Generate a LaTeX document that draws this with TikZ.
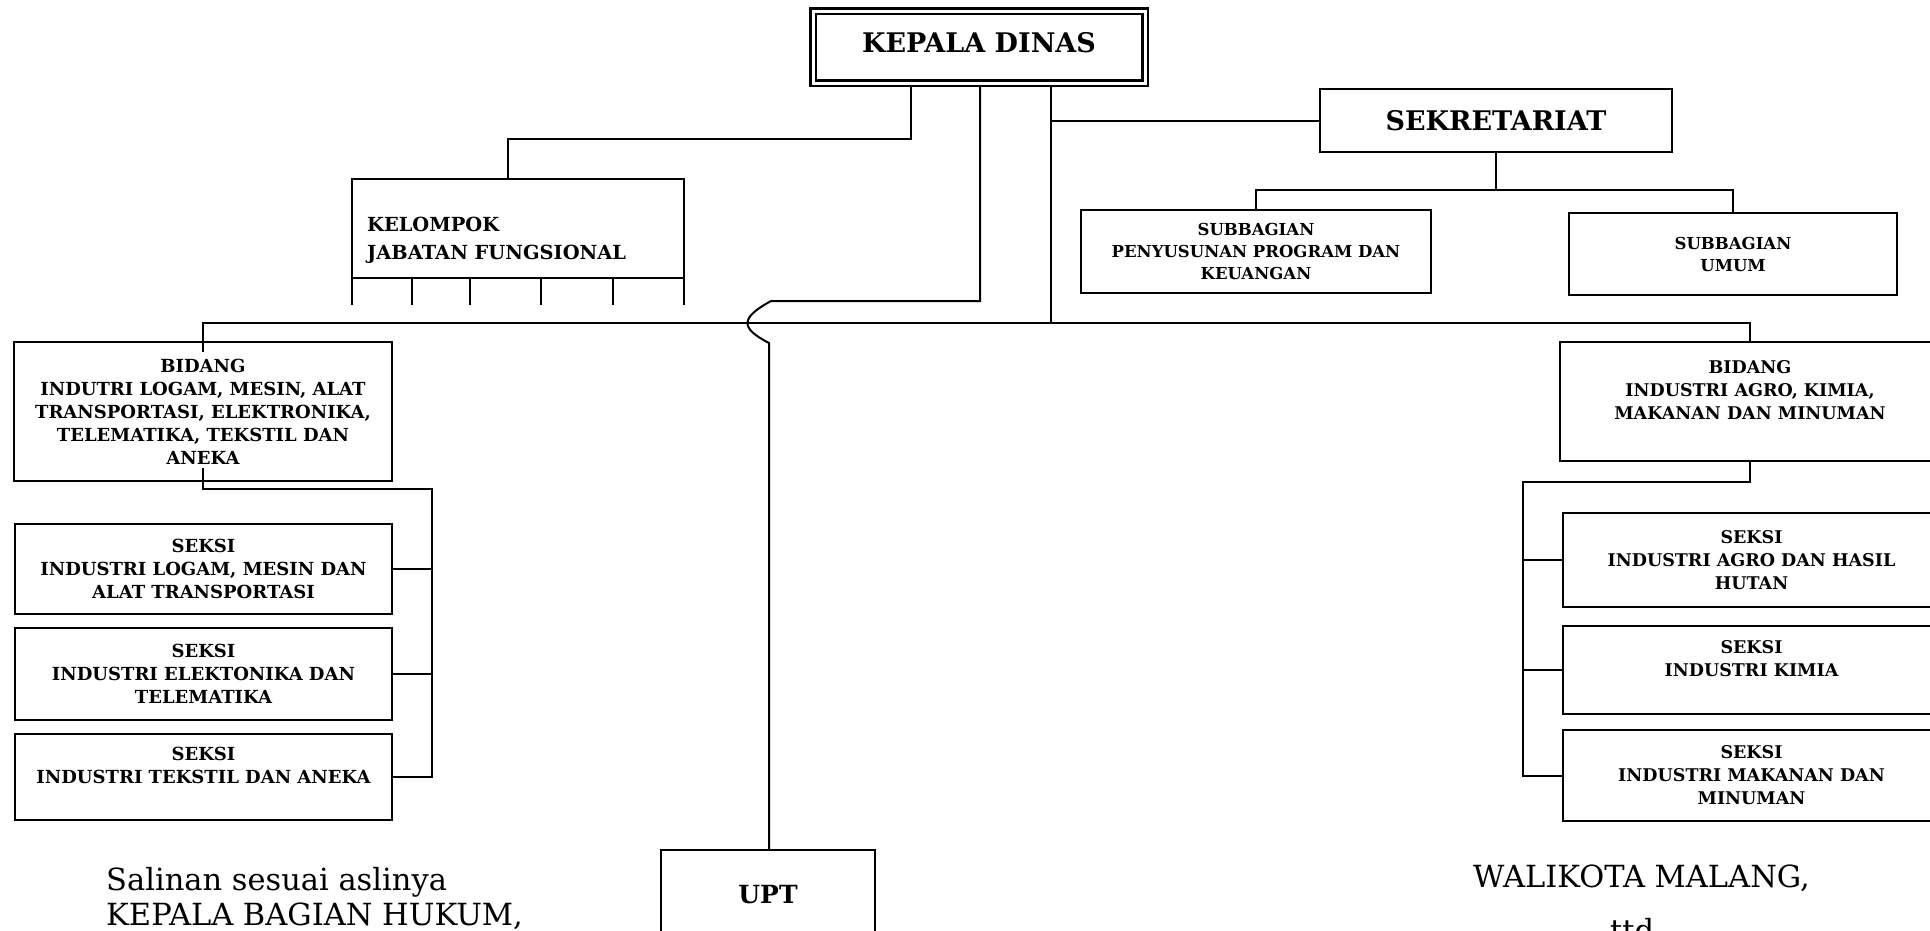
\documentclass[tikz,border=0pt]{standalone}
\usepackage{fontspec}
\setmainfont{DejaVu Serif}

\begin{document}
\begin{tikzpicture}
[x=1pt,y=-1pt,%
  unitBox/.style={draw,line width=2.2pt,inner sep=0pt,align=center,%
    font=\bfseries\fontsize{18}{23}\selectfont},%
  agroBox/.style={unitBox,font=\bfseries\fontsize{17.5}{23}\selectfont},%
  subBox/.style={unitBox,font=\bfseries\fontsize{16.5}{22}\selectfont},%
  headBox/.style={unitBox,font=\bfseries\fontsize{27}{32}\selectfont},%
  openBox/.style={draw,line width=1.4pt,inner sep=0pt},%
  openText/.style={inner sep=0pt,align=left,%
    font=\bfseries\fontsize{19.4}{28}\selectfont},%
  footText/.style={inner sep=0pt,font=\fontsize{30.5}{35}\selectfont},%
  pathConnect/.style={-,line width=2pt}]
\useasboundingbox (0,0) rectangle (1930,930);
%% top level
\node[headBox,double,double distance=3pt,line width=2.5pt,outer sep=4pt,
  minimum width=332pt,minimum height=72pt,text depth=9pt] (kepalaDinas)
  at (979,47) {KEPALA DINAS};
\node[headBox,minimum width=352pt,minimum height=63pt] (sekretariat)
  at (1496,120.5) {SEKRETARIAT};
\node[subBox,minimum width=350pt,minimum height=83pt] (subProgram)
  at (1256,251.5) {SUBBAGIAN\\PENYUSUNAN PROGRAM DAN\\KEUANGAN};
\node[subBox,minimum width=328pt,minimum height=82pt] (subUmum)
  at (1733,254) {SUBBAGIAN\\UMUM};
%% the open box of the functional group
\node[openBox,minimum width=332pt,minimum height=99pt] (kelompok)
  at (518,228.5) {};
\node[openText,anchor=west] (kelompokText) at (367,240)
  {KELOMPOK\\JABATAN FUNGSIONAL};
\foreach \x in {352,412,470,541,613,684}
{
  \draw[openBox] (kelompok.south -| \x,0) -- ++(0,26);
}
%% left column
\node[unitBox,minimum width=378pt,minimum height=139pt] (bidangLogam)
  at (203,411.5) {BIDANG\\INDUTRI LOGAM, MESIN, ALAT\\TRANSPORTASI,
  ELEKTRONIKA,\\TELEMATIKA, TEKSTIL DAN\\ANEKA};
\node[unitBox,minimum width=377pt,minimum height=90pt] (seksiLogam)
  at (203.5,569) {SEKSI\\INDUSTRI LOGAM, MESIN DAN\\ALAT TRANSPORTASI};
\node[unitBox,minimum width=377pt,minimum height=92pt] (seksiElektronika)
  at (203.5,674) {SEKSI\\INDUSTRI ELEKTONIKA DAN\\TELEMATIKA};
\node[unitBox,minimum width=377pt,minimum height=86pt] (seksiTekstil)
  at (203.5,777) {SEKSI\\INDUSTRI TEKSTIL DAN ANEKA\\\mbox{}};
%% right column
\node[agroBox,minimum width=380pt,minimum height=119pt] (bidangAgro)
  at (1750,401.5) {BIDANG\\INDUSTRI AGRO, KIMIA,\\MAKANAN DAN MINUMAN\\\mbox{}};
\node[agroBox,minimum width=377pt,minimum height=94pt] (seksiAgro)
  at (1751.5,560) {SEKSI\\INDUSTRI AGRO DAN HASIL\\HUTAN};
\node[agroBox,minimum width=377pt,minimum height=88pt] (seksiKimia)
  at (1751.5,670) {SEKSI\\INDUSTRI KIMIA\\\mbox{}};
\node[agroBox,minimum width=377pt,minimum height=91pt] (seksiMakanan)
  at (1751.5,775.5) {SEKSI\\INDUSTRI MAKANAN DAN\\MINUMAN};
%% bottom
\node[headBox,font=\bfseries\fontsize{25}{30}\selectfont,
  minimum width=214pt,minimum height=90pt] (upt) at (768,895) {UPT};
\node[footText,anchor=base west] (salinanLine) at (106,890)
  {Salinan sesuai aslinya};
\node[footText,anchor=base west] (kabagLine) at (106,925)
  {KEPALA BAGIAN HUKUM,};
\node[footText,anchor=base west] (walikotaLine) at (1473,887)
  {WALIKOTA MALANG,};
\node[footText,anchor=base] (ttdLine) at (1637,941) {ttd.};
%% joints of the connectors
\coordinate (kelJoint) at (508,139);
\coordinate (hopTop) at (771,301);
\coordinate (hopBottom) at (769,343);
\coordinate (busJoint) at (1051,323);
\coordinate (sekJoint) at (1496,190);
\coordinate (leftRail) at (432,489);
\coordinate (rightRail) at (1523,482);
%% connectors
\draw[pathConnect] ([xshift=-68pt]kepalaDinas.south) |- (kelJoint) --
(kelJoint |- kelompok.north);
\draw[pathConnect] ([xshift=1pt]kepalaDinas.south) |- (hopTop)
.. controls (740,318) and (740,328) .. (hopBottom) -- (hopBottom |- upt.north);
\draw[pathConnect] ([xshift=72pt]kepalaDinas.south) -- (busJoint);
\draw[pathConnect] (sekretariat.west) -- (sekretariat.west -| busJoint);
\draw[pathConnect] ([yshift=-11pt]bidangLogam.north) |- (busJoint) -|
(bidangAgro.north);
\draw[pathConnect] (sekretariat.south) -- (sekJoint);
\draw[pathConnect] (subProgram.north) |- (sekJoint) -| (subUmum.north);
\draw[pathConnect] ([yshift=14pt]bidangLogam.south) |- (leftRail) |-
(seksiTekstil.east);
\foreach \nodename in {seksiLogam,seksiElektronika}
{
  \draw[pathConnect] (\nodename.east) -- (\nodename.east -| leftRail);
}
\draw[pathConnect] (bidangAgro.south) |- (rightRail) |- (seksiMakanan.west);
\foreach \nodename in {seksiAgro,seksiKimia}
{
  \draw[pathConnect] (\nodename.west) -- (\nodename.west -| rightRail);
}
\end{tikzpicture}
\end{document}
